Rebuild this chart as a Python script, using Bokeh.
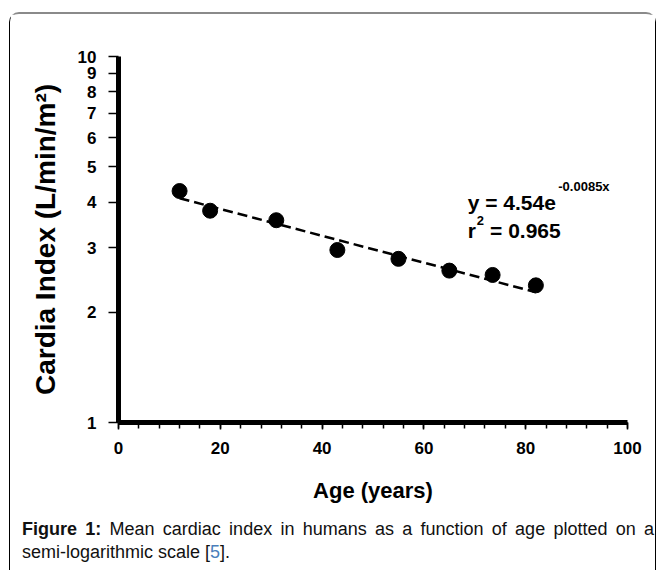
from bokeh.plotting import figure
from bokeh.models import FixedTicker, Label, Div, Range1d, BasicTickFormatter
from bokeh.layouts import column
from bokeh.embed import file_html
from bokeh.resources import INLINE

# ---- data ----
age = [12, 18, 31, 43, 55, 65, 73.5, 82]
cardiac_index = [4.29, 3.79, 3.57, 2.96, 2.80, 2.60, 2.53, 2.37]
trend_age = [12, 82]
trend_ci = [4.10, 2.27]
x_ticks = [0, 20, 40, 60, 80, 100]
x_minor = [0, 4, 8, 12, 16, 20, 24, 28, 32, 36, 40, 44, 48, 52, 56, 60, 64, 68, 72, 76, 80, 84, 88, 92, 96, 100]
y_ticks = [1, 2, 3, 4, 5, 6, 7, 8, 9, 10]

FONT = "Liberation Sans"

p = figure(width=645, height=504, x_range=Range1d(0, 100), y_range=Range1d(1, 10),
           y_axis_type="log", output_backend="svg", toolbar_location=None,
           min_border_left=108, min_border_right=28, min_border_top=42, min_border_bottom=96)
p.xgrid.visible = False
p.ygrid.visible = False
p.outline_line_color = None
p.background_fill_color = "white"
p.border_fill_color = "white"

p.xaxis.ticker = FixedTicker(ticks=x_ticks, minor_ticks=x_minor)
p.yaxis.ticker = FixedTicker(ticks=y_ticks, minor_ticks=[])
p.yaxis.formatter = BasicTickFormatter()

for ax in (p.xaxis[0], p.yaxis[0]):
    ax.axis_line_width = 5
    ax.axis_line_color = "black"
    ax.major_tick_line_width = 1.5
    ax.minor_tick_line_width = 1.5
    ax.major_tick_line_color = "black"
    ax.minor_tick_line_color = "black"
    ax.major_tick_in = 0
    ax.minor_tick_in = 0
    ax.major_label_text_font = FONT
    ax.major_label_text_font_style = "bold"
    ax.major_label_text_font_size = "17px"
    ax.major_label_text_color = "black"
    ax.axis_label_text_font = FONT
    ax.axis_label_text_font_style = "bold"
    ax.axis_label_text_color = "black"

p.xaxis.major_tick_out = 7
p.xaxis.minor_tick_out = 6
p.xaxis.major_label_standoff = 12
p.xaxis.axis_label = "Age (years)"
p.xaxis.axis_label_text_font_size = "22px"
p.xaxis.axis_label_standoff = 21

p.yaxis.major_tick_out = 10
p.yaxis.minor_tick_out = 0
p.yaxis.major_label_standoff = 12
p.yaxis.axis_label = "Cardia Index (L/min/m²)"
p.yaxis.axis_label_text_font_size = "28px"
p.yaxis.axis_label_standoff = 14

p.line(trend_age, trend_ci, line_dash="10 5", line_width=2.5, color="black")
p.scatter(age, cardiac_index, size=15, color="black")

def lab(x, y, t, size):
    p.add_layout(Label(x=x, y=y, text=t, text_font=FONT, text_font_style="bold",
                       text_font_size=size, text_color="black", text_baseline="alphabetic"))

lab(68.6, 3.99, "y = 4.54e", "21px")
lab(86.4, 4.42, "-0.0085x", "13px")
lab(68.6, 3.35, "r", "21px")
lab(70.4, 3.56, "2", "13px")
lab(73.0, 3.35, "= 0.965", "21px")

caption_html = (
    '<div style="width:632px;font-family:\'Liberation Sans\',Arial,sans-serif;font-size:18px;'
    'line-height:23px;color:#111;">'
    '<div style="width:632px;white-space:nowrap;text-align:justify;text-align-last:justify;">'
    '<b>Figure 1:</b> Mean cardiac index in humans as a function of age plotted on a</div>'
    '<div>semi-logarithmic scale [<span style="color:#4a7ebb">5</span>].</div></div>'
)
cap = Div(text=caption_html, width=632, height=52, margin=(0, 0, 0, 12))

layout = column(p, cap, styles={
    "margin-left": "9px", "margin-top": "12px",
    "border-left": "1px solid #000", "border-top": "2px solid #8a8a8a",
    "border-right": "1px solid #000",
    "border-top-left-radius": "10px", "border-top-right-radius": "10px",
})

open("out.html", "w").write(file_html(layout, INLINE))
